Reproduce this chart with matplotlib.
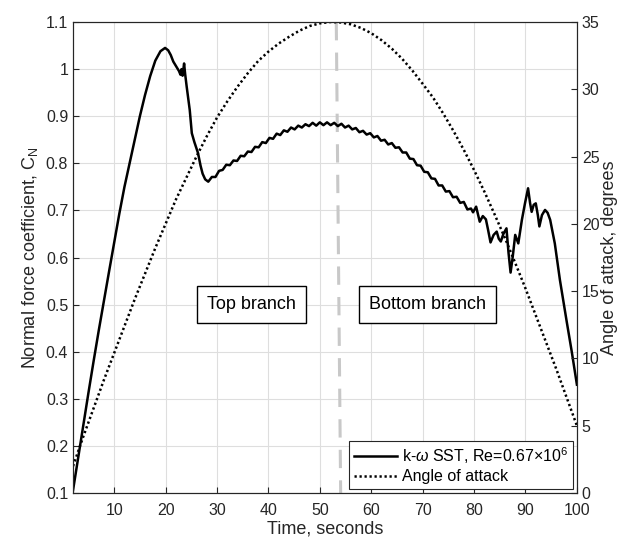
import matplotlib
matplotlib.use("Agg")
import matplotlib.pyplot as plt

plt.rcParams['font.family'] = ['Liberation Sans', 'DejaVu Sans']
plt.rcParams['mathtext.fontset'] = 'custom'
plt.rcParams['mathtext.rm'] = 'Liberation Sans'
plt.rcParams['mathtext.it'] = 'Liberation Sans:italic'

# normal force coefficient history (k-omega SST run)
time_cn = [2.0, 3.0, 4.0, 5.0, 6.0, 7.0, 8.0, 9.0, 10.0, 11.0, 12.0, 13.0, 14.0,
           15.0, 16.0, 17.0, 18.0, 19.0, 19.9, 20.5, 21.0, 21.5, 22.2, 22.6,
           22.9, 23.1, 23.3, 23.6, 23.8, 24.1, 24.7, 25.1, 25.6, 26.3, 26.8,
           27.2, 27.7, 28.3,
           29.0, 29.7, 30.4, 31.1, 31.8, 32.5, 33.2, 33.9, 34.6, 35.3, 36.0,
           36.7, 37.4, 38.1, 38.8, 39.5, 40.2, 40.9, 41.6, 42.3, 43.0, 43.7,
           44.4, 45.1, 45.8, 46.5, 47.2, 47.9, 48.6, 49.3, 50.0, 50.7, 51.4,
           52.1, 52.8, 53.5, 54.2, 54.9, 55.6, 56.3, 57.0, 57.7, 58.4, 59.1,
           59.8, 60.5, 61.2, 61.9, 62.6, 63.3, 64.0, 64.7, 65.4, 66.1, 66.8,
           67.5, 68.2, 68.9, 69.6, 70.3, 71.0, 71.7, 72.4, 73.1, 73.8, 74.5,
           75.2, 75.9, 76.6, 77.3, 78.0, 78.7, 79.4,
           79.8, 80.4, 80.8, 81.1, 81.7, 82.3, 82.7, 83.2, 83.8, 84.4, 84.8,
           85.2, 85.7, 86.3, 86.7, 87.1, 87.5, 88.0, 88.6, 89.3, 89.9, 90.5,
           90.9, 91.2, 91.6, 92.0, 92.4, 92.7, 93.2, 93.8, 94.3, 94.8, 95.7,
           96.7, 98.0, 99.0, 100.0]
cn = [0.106, 0.175, 0.245, 0.313, 0.380, 0.445, 0.508, 0.570, 0.632, 0.693,
      0.750, 0.800, 0.850, 0.900, 0.945, 0.985, 1.018, 1.038, 1.045, 1.040,
      1.030, 1.016, 1.003, 0.996, 0.988, 1.000, 0.986, 1.012, 0.990, 0.963,
      0.913, 0.864, 0.845, 0.822, 0.795, 0.778, 0.766, 0.761,
      0.771, 0.771, 0.784, 0.786, 0.797, 0.796, 0.806, 0.805, 0.816, 0.815,
      0.825, 0.824, 0.835, 0.834, 0.845, 0.843, 0.854, 0.852, 0.863, 0.860,
      0.870, 0.867, 0.876, 0.872, 0.880, 0.876, 0.883, 0.879, 0.886, 0.880,
      0.887, 0.881, 0.887, 0.881, 0.886, 0.879, 0.884, 0.876, 0.880, 0.872,
      0.875, 0.866, 0.869, 0.861, 0.864, 0.855, 0.858, 0.848, 0.850, 0.840,
      0.843, 0.833, 0.834, 0.823, 0.823, 0.810, 0.809, 0.796, 0.795, 0.782,
      0.781, 0.768, 0.767, 0.753, 0.753, 0.740, 0.741, 0.728, 0.729, 0.716,
      0.718, 0.702, 0.704,
      0.696, 0.708, 0.690, 0.676, 0.688, 0.681, 0.660, 0.632, 0.648, 0.655,
      0.640, 0.634, 0.650, 0.662, 0.610, 0.568, 0.600, 0.648, 0.630, 0.680,
      0.715, 0.747, 0.715, 0.697, 0.712, 0.715, 0.690, 0.666, 0.690, 0.701,
      0.695, 0.680, 0.630, 0.552, 0.465, 0.400, 0.330]

# prescribed pitch motion, degrees
time_aoa = [2, 4, 6, 8, 10, 12, 14, 16, 18, 20, 22, 24, 26, 28, 30, 32, 34,
            36, 38, 40, 42, 44, 46, 48, 50, 52, 54, 56, 58, 60, 62, 64, 66,
            68, 70, 72, 74, 76, 78, 80, 82, 84, 86, 88, 90, 92, 94, 96, 98, 100]
aoa = [2.0, 4.2, 6.3, 8.4, 10.4, 12.4, 14.4, 16.3, 18.2, 20.0, 21.8, 23.4,
       25.0, 26.5, 27.9, 29.1, 30.2, 31.2, 32.1, 32.8, 33.4, 33.9, 34.35,
       34.7, 34.9, 35.0, 34.97, 34.83, 34.56, 34.17, 33.65, 33.02, 32.27,
       31.39, 30.41, 29.4, 28.2, 26.9, 25.5, 24.0, 22.4, 20.7, 18.95, 17.1,
       15.2, 13.2, 11.2, 9.2, 7.1, 5.0]

# switch between top and bottom branch of the motion
switch_time = [53.2, 54.05]
switch_cn = [1.1, 0.1]

x_ticks = [10, 20, 30, 40, 50, 60, 70, 80, 90, 100]
cn_ticks = [0.1, 0.2, 0.3, 0.4, 0.5, 0.6, 0.7, 0.8, 0.9, 1.0, 1.1]
cn_ticklabels = ['0.1', '0.2', '0.3', '0.4', '0.5', '0.6', '0.7', '0.8',
                 '0.9', '1', '1.1']
aoa_ticks = [0, 5, 10, 15, 20, 25, 30, 35]

axis_color = '#262626'

fig = plt.figure(figsize=(6.19, 5.41), dpi=100)
ax = fig.add_axes([0.118, 0.0887, 0.814, 0.8706])
ax2 = ax.twinx()

ax.plot(switch_time, switch_cn, color='#c8c8c8', linewidth=2.2,
        dashes=(6, 4), zorder=1)
line_cn, = ax.plot(time_cn, cn, color='black', linewidth=1.8, zorder=3,
                   label=r'k-$\omega$ SST, Re=0.67$\times$10$^6$')
line_aoa, = ax2.plot(time_aoa, aoa, color='black', linewidth=1.8,
                     linestyle=(0, (0.9, 1.1)), label='Angle of attack')

ax.set_xlim(2, 100)
ax.set_ylim(0.1, 1.1)
ax2.set_ylim(0, 35)
ax.set_xticks(x_ticks)
ax.set_yticks(cn_ticks)
ax.set_yticklabels(cn_ticklabels)
ax2.set_yticks(aoa_ticks)

ax.grid(True, color='#dedede', linewidth=0.8)
ax.set_axisbelow(True)

for a in (ax, ax2):
    a.tick_params(direction='in', length=4, width=0.8, colors=axis_color,
                  labelsize=11.5)
    for s in a.spines.values():
        s.set_color('#262626')
        s.set_linewidth(0.8)
ax.tick_params(axis='x', pad=7)

ax.set_xlabel('Time, seconds', fontsize=13, color=axis_color, labelpad=2)
ax.set_ylabel('Normal force coefficient, C$_\\mathrm{N}$', fontsize=13,
              color=axis_color, labelpad=4)
ax2.set_ylabel('Angle of attack, degrees', fontsize=13, color=axis_color,
               labelpad=1)

box = dict(boxstyle='square,pad=0.55', facecolor='white', edgecolor='black',
           linewidth=1.0)
ax.text(36.7, 0.5, 'Top branch', fontsize=13, ha='center', va='center',
        bbox=box, zorder=5)
ax.text(70.9, 0.5, 'Bottom branch', fontsize=13, ha='center', va='center',
        bbox=box, zorder=5)

leg = ax2.legend([line_cn, line_aoa], [line_cn.get_label(), line_aoa.get_label()],
                 loc='lower right', fontsize=11.5, frameon=True, fancybox=False,
                 edgecolor='#262626', framealpha=1, borderpad=0.3,
                 handlelength=2.7, handletextpad=0.3, labelspacing=0.2,
                 borderaxespad=0.25)
leg.get_frame().set_linewidth(0.8)

fig.savefig('out.png', dpi=100)
